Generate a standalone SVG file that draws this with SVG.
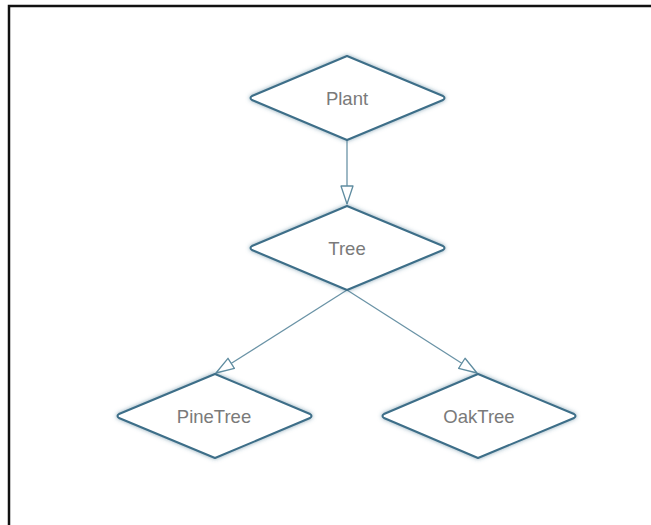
<svg xmlns="http://www.w3.org/2000/svg" width="651" height="525" viewBox="0 0 651 525">
<defs>
<filter id="sh" x="-10%" y="-10%" width="120%" height="120%">
<feGaussianBlur in="SourceAlpha" stdDeviation="2"/>
<feOffset dx="0" dy="0" result="b"/>
<feFlood flood-color="#3d6e88" flood-opacity="0.6"/>
<feComposite in2="b" operator="in"/>
<feMerge><feMergeNode/><feMergeNode in="SourceGraphic"/></feMerge>
</filter>
<marker id="arr" viewBox="0 0 20 14" refX="19" refY="7" markerWidth="20" markerHeight="14" markerUnits="userSpaceOnUse" orient="auto">
<path d="M1,1 L19,7 L1,13 Z" fill="#fff" stroke="#5f8ca0" stroke-width="1.3" stroke-linejoin="round"/>
</marker>
</defs>
<style>
.d{fill:#fff;stroke:#3d6e88;stroke-width:2;stroke-linejoin:round;filter:url(#sh)}
.t{font-family:"Liberation Sans",Arial,sans-serif;font-size:18.5px;fill:#7a7a7a;text-anchor:middle;dominant-baseline:central}
.c{stroke:#6a93a6;stroke-width:1.3;fill:none;marker-end:url(#arr)}
</style>
<rect width="651" height="525" fill="#fff"/>
<path d="M9,525 V6 H651" fill="none" stroke="#111" stroke-width="2.5"/>
<g id="connectors">
<line class="c" x1="347" y1="140" x2="347" y2="204"/>
<line class="c" x1="347" y1="290" x2="216" y2="373"/>
<line class="c" x1="347" y1="290" x2="477" y2="373"/>
</g>
<g id="plant">
<path class="d" d="M347,56 L443,96 Q446,98 443,100 L347,140 L252,100 Q249,98 252,96 Z"/>
<text class="t" x="347" y="98">Plant</text>
</g>
<g id="tree">
<path class="d" d="M347,206 L443,246 Q446,248 443,250 L347,290 L252,250 Q249,248 252,246 Z"/>
<text class="t" x="347" y="248">Tree</text>
</g>
<g id="pinetree">
<path class="d" d="M215,374 L310,414 Q313,416 310,418 L215,458 L119,418 Q116,416 119,414 Z"/>
<text class="t" x="214" y="416">PineTree</text>
</g>
<g id="oaktree">
<path class="d" d="M478,374 L574,414 Q577,416 574,418 L478,458 L384,418 Q381,416 384,414 Z"/>
<text class="t" x="479" y="416">OakTree</text>
</g>
</svg>
